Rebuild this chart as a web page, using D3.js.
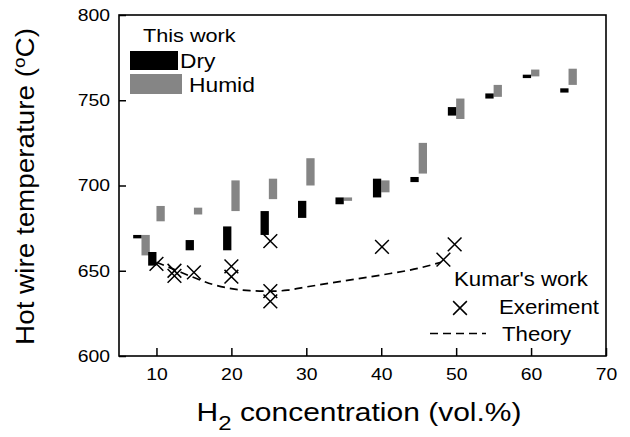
<!DOCTYPE html>
<html>
<head>
<meta charset="utf-8">
<script src="https://cdn.jsdelivr.net/npm/d3@7"></script>
<style>
  body { margin: 0; background: #fff; }
  svg text { font-family: "Liberation Sans", Arial, sans-serif; fill: #000; }
</style>
</head>
<body>
<div id="chart"></div>
<script>
// This work: temperature range bars (dry = black, humid = gray)
const conc = [8, 10, 15, 20, 25, 30, 35, 40, 45, 50, 55, 60, 65];
const dryLow = [669, 653, 662, 662, 671, 681, 689, 693, 702, 741, 751, 763, 754.5];
const dryHigh = [671, 661, 668, 676, 685, 691, 693, 704, 705, 746, 754, 765, 757];
const humidLow = [659, 679, 683, 685, 692, 700, 691, 696, 707, 739, 752, 764, 759];
const humidHigh = [671, 688, 687, 703, 704, 716, 693, 703, 725, 751, 759, 768, 768.5];

// Kumar's work
const expX = [10, 12.4, 12.4, 15, 20, 20, 25.2, 25.2, 25.2, 40.1, 48.3, 49.8];
const expY = [654, 650, 647, 649, 652.6, 646.5, 667.4, 638, 632, 664, 656.5, 665.5];
const theoryX = [10, 12.5, 15, 17.5, 20, 22.5, 25, 27.5, 30, 35, 40, 45, 48];
const theoryY = [655, 650.5, 646, 642, 639.5, 638.3, 638, 638.6, 640.5, 644, 647.5, 651.5, 655];

const xTicks = [10, 20, 30, 40, 50, 60, 70];
const yTicks = [600, 650, 700, 750, 800];

const W = 630, H = 437;
const margin = { top: 15, right: 24, bottom: 81, left: 119 };
const barW = 8.3;
const gray = '#858585';
const wide = 1.14; // the original lettering is wider than Liberation Sans

const svg = d3.select('#chart').append('svg')
  .attr('width', W).attr('height', H);

const x = d3.scaleLinear().domain([5, 70]).range([margin.left, W - margin.right]);
const y = d3.scaleLinear().domain([600, 800]).range([H - margin.bottom, margin.top]);

// widen a text horizontally around its anchor point
function stretch(sel, k) {
  sel.each(function () {
    const t = d3.select(this);
    const ax = +t.attr('x') || 0, ay = +t.attr('y') || 0;
    t.attr('transform', `translate(${ax},${ay}) scale(${k},1) translate(${-ax},${-ay})`);
  });
}

// axes with inward ticks
const xAxis = svg.append('g')
  .attr('transform', `translate(0,${H - margin.bottom})`)
  .call(d3.axisBottom(x).tickValues(xTicks).tickSizeInner(-8).tickSizeOuter(0).tickPadding(12));
const yAxis = svg.append('g')
  .attr('transform', `translate(${margin.left},0)`)
  .call(d3.axisLeft(y).tickValues(yTicks).tickSizeInner(-7).tickSizeOuter(0).tickPadding(9));

[xAxis, yAxis].forEach(a => {
  a.select('.domain').remove();
  a.selectAll('.tick line').attr('stroke', '#000').attr('stroke-width', 1.5);
  a.selectAll('.tick text').style('font-size', '17px').attr('fill', '#000').call(stretch, wide);
});

// frame
svg.append('rect')
  .attr('x', x(5)).attr('y', y(800))
  .attr('width', x(70) - x(5)).attr('height', y(600) - y(800))
  .attr('fill', 'none').attr('stroke', '#000').attr('stroke-width', 1.6);

// bars
const rows = conc.map((c, i) => ({ c, dl: dryLow[i], dh: dryHigh[i], hl: humidLow[i], hh: humidHigh[i] }));

svg.append('g').selectAll('rect').data(rows).enter().append('rect')
  .attr('x', d => x(d.c))
  .attr('y', d => y(d.hh))
  .attr('width', barW)
  .attr('height', d => y(d.hl) - y(d.hh))
  .attr('fill', gray);

svg.append('g').selectAll('rect').data(rows).enter().append('rect')
  .attr('x', d => x(d.c) - barW)
  .attr('y', d => y(d.dh))
  .attr('width', barW)
  .attr('height', d => y(d.dl) - y(d.dh))
  .attr('fill', '#000');

// theory line
const line = d3.line().x(d => x(d[0])).y(d => y(d[1])).curve(d3.curveMonotoneX);
svg.append('path')
  .datum(theoryX.map((v, i) => [v, theoryY[i]]))
  .attr('d', line)
  .attr('fill', 'none').attr('stroke', '#000')
  .attr('stroke-width', 1.7).attr('stroke-dasharray', '8,5');

// experiment crosses
const cross = d3.symbol().type(d3.symbolX).size(125);
svg.append('g').selectAll('path').data(expX.map((v, i) => [v, expY[i]])).enter().append('path')
  .attr('d', cross)
  .attr('transform', d => `translate(${x(d[0])},${y(d[1])})`)
  .attr('fill', 'none').attr('stroke', '#000').attr('stroke-width', 1.5);

// legend: this work
const legend = svg.append('g');
legend.append('text').attr('x', 143).attr('y', 42).style('font-size', '19px').text('This work');
legend.append('rect').attr('x', 130).attr('y', 51).attr('width', 48).attr('height', 19).attr('fill', '#000');
legend.append('text').attr('x', 180).attr('y', 68).style('font-size', '20px').text('Dry');
legend.append('rect').attr('x', 130).attr('y', 74).attr('width', 52).attr('height', 20).attr('fill', gray);
legend.append('text').attr('x', 189).attr('y', 92).style('font-size', '20px').text('Humid');

// legend: Kumar's work
legend.append('text').attr('x', 454).attr('y', 286).style('font-size', '19.5px').text("Kumar's work");
legend.append('path').attr('d', cross)
  .attr('transform', 'translate(460,308)')
  .attr('fill', 'none').attr('stroke', '#000').attr('stroke-width', 1.5);
legend.append('text').attr('x', 499).attr('y', 314).style('font-size', '19.5px').text('Exeriment');
legend.append('line').attr('x1', 430).attr('x2', 486).attr('y1', 333.5).attr('y2', 333.5)
  .attr('stroke', '#000').attr('stroke-width', 1.7).attr('stroke-dasharray', '8,5');
legend.append('text').attr('x', 502).attr('y', 341.5).style('font-size', '19.5px').text('Theory');
legend.selectAll('text').call(stretch, wide);

// axis titles, widened to the span they take in the original
const xt = svg.append('text').attr('x', 359).attr('y', 421.5)
  .attr('text-anchor', 'middle').style('font-size', '25px');
xt.append('tspan').text('H');
xt.append('tspan').attr('dy', 9).style('font-size', '20px').text('2');
xt.append('tspan').attr('dy', -9).text(' concentration (vol.%)');
stretch(xt, 325 / xt.node().getBBox().width);

const yt = svg.append('text')
  .attr('text-anchor', 'middle').style('font-size', '25px');
yt.append('tspan').text('Hot wire temperature (');
yt.append('tspan').attr('dy', -9).style('font-size', '17px').text('o');
yt.append('tspan').attr('dy', 9).text('C)');
const ytk = 317 / yt.node().getBBox().width;
yt.attr('transform', `translate(34,186.5) rotate(-90) scale(${ytk},1)`);
</script>
</body>
</html>
